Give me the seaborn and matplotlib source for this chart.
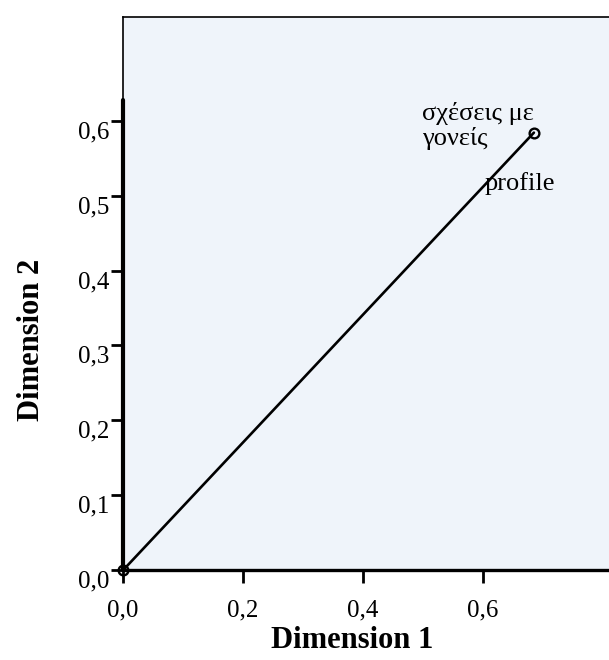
import matplotlib
matplotlib.use("Agg")
import matplotlib.pyplot as plt
import matplotlib.transforms as mtransforms
import seaborn as sns
import pandas as pd

# data
point_labels = ["origin", "σχέσεις με\nγονείς"]
dim1 = [0.0, 0.685]
dim2 = [0.0, 0.584]
x_ticks = [0.0, 0.2, 0.4, 0.6]
y_ticks = [0.0, 0.1, 0.2, 0.3, 0.4, 0.5, 0.6]
profile_label = "profile"

sns.set_theme(style="white")
plt.rcParams["font.family"] = ["Liberation Serif", "DejaVu Serif"]

df = pd.DataFrame({"Dimension 1": dim1, "Dimension 2": dim2, "label": point_labels})

fig = plt.figure(figsize=(6.09, 6.60), dpi=100)
fig.patch.set_facecolor("white")
ax = fig.add_axes([0.202, 0.136, 0.849, 0.839])
ax.set_facecolor("#eff4fa")

sns.lineplot(data=df, x="Dimension 1", y="Dimension 2", sort=False, ax=ax,
             color="black", linewidth=1.9, marker="o", markersize=7,
             markerfacecolor="none", markeredgecolor="black", markeredgewidth=1.7,
             clip_on=False, zorder=5)

ax.set_xlim(0, 0.862)
ax.set_ylim(0, 0.739)

ax.set_xticks(x_ticks)
ax.set_yticks(y_ticks)
ax.set_xticklabels([f"{v:.1f}".replace(".", ",") for v in x_ticks])
ax.set_yticklabels([f"{v:.1f}".replace(".", ",") for v in y_ticks])
ax.tick_params(axis="x", direction="out", length=9, width=2, pad=12,
               labelsize=18, colors="black", bottom=True)
ax.tick_params(axis="y", direction="out", length=9, width=2, pad=1,
               labelsize=18, colors="black", left=True)
offset = mtransforms.ScaledTranslation(0, -9 / 100, fig.dpi_scale_trans)
for lab in ax.get_yticklabels():
    lab.set_transform(lab.get_transform() + offset)

for side in ["top", "left"]:
    ax.spines[side].set_linewidth(1.2)
    ax.spines[side].set_color("black")
ax.spines["right"].set_visible(False)
ax.spines["bottom"].set_linewidth(2.4)
ax.spines["bottom"].set_color("black")
ax.axvline(0, 0, 0.627 / 0.739, color="black", linewidth=3, clip_on=False)

# annotations
ax.text(0.498, 0.625, point_labels[1], ha="left", va="top", fontsize=19,
        linespacing=1.1, color="black")
ax.text(0.603, 0.516, profile_label, ha="left", va="center", fontsize=19,
        color="black")

ax.set_xlabel("Dimension 1", fontsize=22, fontweight="bold", color="black")
ax.set_ylabel("Dimension 2", fontsize=22, fontweight="bold", color="black")
ax.xaxis.set_label_coords((352 - 123) / 517, -(626 - 570) / 554)
ax.yaxis.set_label_coords(-(123 - 46) / 517, (570 - 340) / 554)

fig.savefig("out.png", dpi=100)
